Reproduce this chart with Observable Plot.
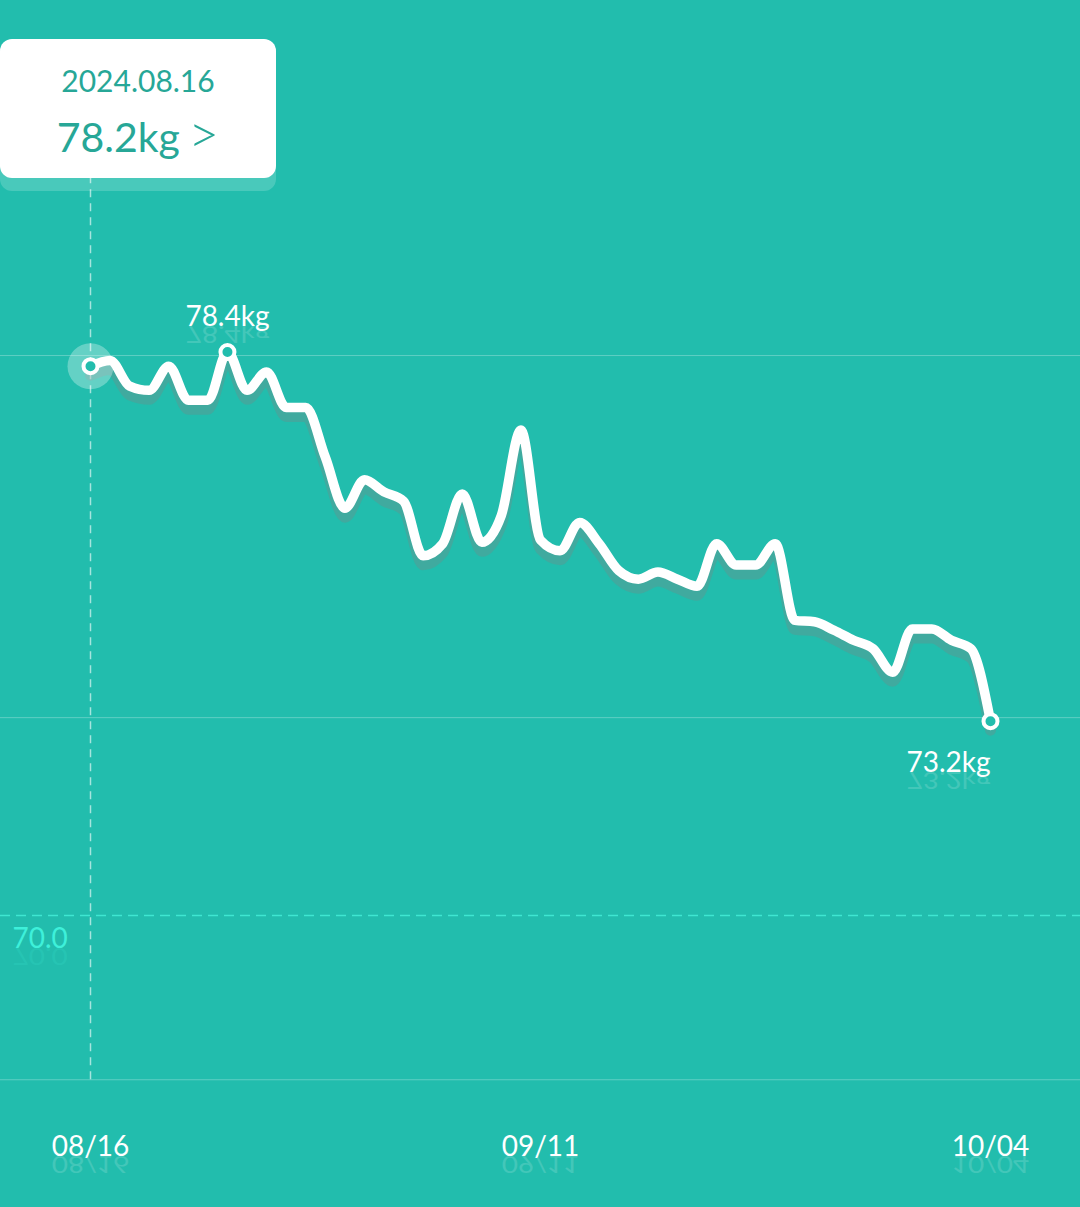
<!DOCTYPE html>
<html>
<head>
<meta charset="utf-8">
<script src="https://cdn.jsdelivr.net/npm/d3@7"></script>
<script src="https://cdn.jsdelivr.net/npm/@observablehq/plot@0.6"></script>
<style>
  html, body { margin: 0; padding: 0; background: #22bdad; }
  #wrap { position: relative; width: 1080px; height: 1207px; overflow: hidden; font-family: Lato, "Open Sans", sans-serif; }
  #tip {
    position: absolute; left: 0px; top: 39px; width: 276px; height: 139px;
    background: #fff; border-radius: 12px;
    box-shadow: 0 13px 0 0 rgba(255,255,255,0.18);
    color: #27a797; text-align: center;
  }
  #tip .date { position: absolute; left: 0; right: 0; top: 21px; font-size: 30px; line-height: 40px; font-weight: 400; }
  #tip .val { position: absolute; left: 0; right: 0; top: 73px; font-size: 41px; line-height: 50px; font-weight: 400; }
  #tip .val span { font-size: 54px; margin-left: 8px; font-weight: 300; line-height: 50px; vertical-align: top; position: relative; top: -4px; }
</style>
</head>
<body>
<div id="wrap">
  <div id="chart"></div>
  <div id="tip"><div class="date"></div><div class="val"></div></div>
</div>
<script>
// ---- data ----
const weights = [78.2, 78.28, 77.92, 77.86, 78.2, 77.72, 77.72, 78.4, 77.86, 78.12,
  77.62, 77.62, 76.92, 76.2, 76.6, 76.43, 76.3, 75.53, 75.7, 76.4,
  75.72, 76.1, 77.3, 75.75, 75.6, 76.0, 75.7, 75.32, 75.2, 75.3,
  75.2, 75.1, 75.7, 75.4, 75.4, 75.7, 74.62, 74.6, 74.48, 74.34,
  74.22, 73.89, 74.5, 74.5, 74.34, 74.22, 73.2];
const tickIndex = [0, 23, 46];
const tickLabels = ["08/16", "09/11", "10/04"];
const gridValues = [78.35, 73.25, 68.15];
const goalWeight = 70.0;
const selectedIndex = 0;
const selectedDate = "2024.08.16";

// ---- derived ----
const pts = weights.map((w, i) => ({i, w}));
const maxI = d3.maxIndex(weights);
const lastI = weights.length - 1;
const teal = "#22bdad";

const chart = Plot.plot({
  width: 1080,
  height: 1207,
  margin: 0,
  style: {background: teal, fontFamily: "Lato, 'Open Sans', sans-serif", overflow: "visible"},
  x: {type: "linear", domain: [0, lastI], range: [90, 990], axis: null},
  y: {type: "linear", domain: [73.2, 78.2], range: [720.7, 365.7], axis: null},
  marks: [
    Plot.ruleY(gridValues, {stroke: "#ffffff", strokeOpacity: 0.28, strokeWidth: 1}),
    Plot.ruleY([goalWeight], {stroke: "#3fe6d1", strokeWidth: 1.5, strokeDasharray: "10,6", dy: -33}),
    Plot.text([goalWeight], {y: d => d, frameAnchor: "left", dx: 12, text: d => d.toFixed(1),
      textAnchor: "start", lineAnchor: "bottom", fill: "#3ef0da", fontSize: 28, className: "refl"}),
    Plot.ruleX([selectedIndex], {y1: gridValues[2], y2: 82, stroke: "#ffffff", strokeOpacity: 0.6,
      strokeWidth: 1.5, strokeDasharray: "8,6"}),
    // drop shadow of the line
    Plot.line(pts, {x: "i", y: "w", curve: "monotone-x", stroke: "#6f8f8a", strokeOpacity: 0.4,
      strokeWidth: 11, dy: 9, strokeLinejoin: "round", strokeLinecap: "round"}),
    Plot.line(pts, {x: "i", y: "w", curve: "monotone-x", stroke: "#ffffff",
      strokeWidth: 9.5, strokeLinejoin: "round", strokeLinecap: "round"}),
    Plot.dot([pts[selectedIndex]], {x: "i", y: "w", r: 23, fill: "#ffffff", fillOpacity: 0.3}),
    Plot.dot([pts[selectedIndex], pts[maxI], pts[lastI]], {x: "i", y: "w", r: 7, fill: teal,
      stroke: "#ffffff", strokeWidth: 4}),
    Plot.text([pts[maxI]], {x: "i", y: "w", text: d => d.w.toFixed(1) + "kg", dy: -26,
      lineAnchor: "bottom", fill: "#ffffff", fontSize: 28, className: "refl"}),
    Plot.text([pts[lastI]], {x: "i", y: "w", text: d => d.w.toFixed(1) + "kg", dy: 51, dx: -42,
      lineAnchor: "bottom", fill: "#ffffff", fontSize: 28, className: "refl"}),
    Plot.text(tickIndex, {x: d => d, frameAnchor: "bottom", dy: -52, text: (d, k) => tickLabels[k],
      lineAnchor: "bottom", fill: "#ffffff", fontSize: 28, className: "refl"})
  ]
});
document.getElementById("chart").appendChild(chart);

// faint mirrored reflections under text labels
chart.querySelectorAll("g.refl text").forEach(t => {
  const c = t.cloneNode(true);
  c.setAttribute("transform", (t.getAttribute("transform") || "") + " scale(1,-0.8)");
  c.setAttribute("opacity", "0.15");
  t.parentNode.insertBefore(c, t);
});

document.querySelector("#tip .date").textContent = selectedDate;
document.querySelector("#tip .val").innerHTML = weights[selectedIndex].toFixed(1) + "kg<span>&gt;</span>";
</script>
</body>
</html>
